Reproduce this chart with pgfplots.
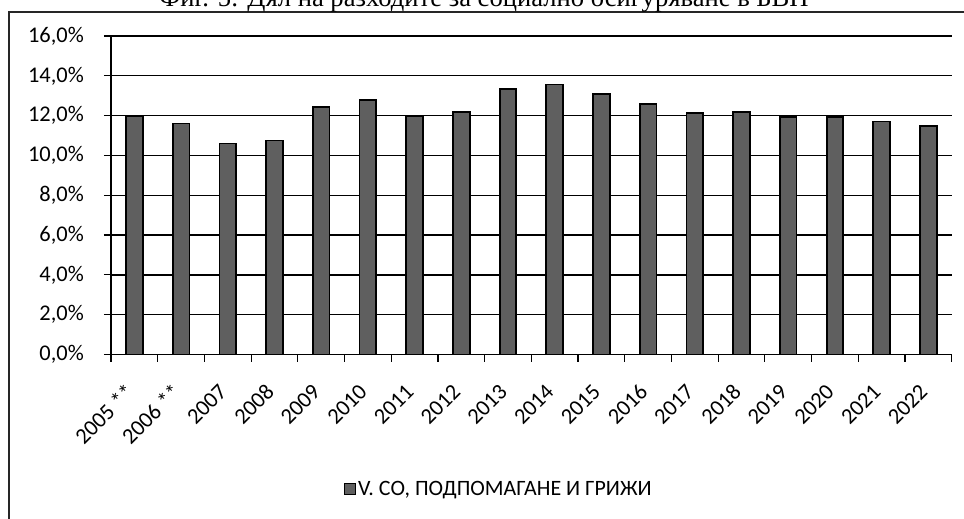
\documentclass[border=0pt]{standalone}
\usepackage{fontspec}
\setmainfont{Carlito}
\newfontfamily\titlefont{Liberation Serif}
\usepackage{pgfplots}
\pgfplotsset{compat=1.18}
\definecolor{barcol}{RGB}{95,95,95}
\begin{document}
\begin{tikzpicture}[x=1bp,y=1bp]
\useasboundingbox (0,0) rectangle (964,-519);
\draw[line width=2bp, black!85] (9,-519) -- (9,-12) -- (964,-12);
\node[anchor=base, inner sep=0pt, font=\titlefont\fontsize{26.7}{30}\selectfont] at (484,-7) {Фиг. 5: Дял на разходите за социално осигуряване в БВП};
\begin{axis}[
  at={(111bp,-354.5bp)}, anchor=south west,
  scale only axis, width=840.7bp, height=318.5bp,
  xmin=-0.5, xmax=17.5, ymin=0, ymax=16,
  axis x line*=bottom, axis y line*=left,
  axis line style={black, line width=1.3bp},
  ymajorgrids, major grid style={black, line width=1.3bp},
  tick align=outside, major tick length=7bp,
  tick style={black, line width=1.2bp},
  ytick={0,2,...,16},
  yticklabels={{0,0\%},{2,0\%},{4,0\%},{6,0\%},{8,0\%},{10,0\%},{12,0\%},{14,0\%},{16,0\%}},
  yticklabel style={font=\fontsize{22.5}{26}\selectfont, anchor=east, inner sep=0pt, xshift=-20bp},
  xtick={-0.5,0.5,...,17.5}, xticklabels={},
  xticklabel style={font=\fontsize{22.5}{26}\selectfont, yshift=-28bp, xshift=-10bp, rotate=45, anchor=north east, inner sep=0pt},
  extra x ticks={0,...,17},
  extra x tick labels={{2005 **},{2006 **},2007,2008,2009,2010,2011,2012,2013,2014,2015,2016,2017,2018,2019,2020,2021,2022},
  extra x tick style={major tick length=0pt},
  ybar, bar width=16.7bp,
  legend style={draw=none, fill=none, font=\fontsize{22}{25}\selectfont, at={(0.4615,-0.4235)}, anchor=center},
  legend image code/.code={\draw[fill=barcol, draw=black, line width=0.8bp] (0bp,-5.5bp) rectangle (11bp,5.5bp);},
]
\addplot[fill=barcol, draw=black, line width=1.8bp] coordinates {
(0,12.0) (1,11.6) (2,10.6) (3,10.75) (4,12.45) (5,12.8) (6,12.0) (7,12.2) (8,13.33)
(9,13.56) (10,13.1) (11,12.57) (12,12.13) (13,12.17) (14,11.95) (15,11.95) (16,11.7) (17,11.46)
};
\addlegendentry{V. СО, ПОДПОМАГАНЕ И ГРИЖИ}
\end{axis}
\end{tikzpicture}
\end{document}
